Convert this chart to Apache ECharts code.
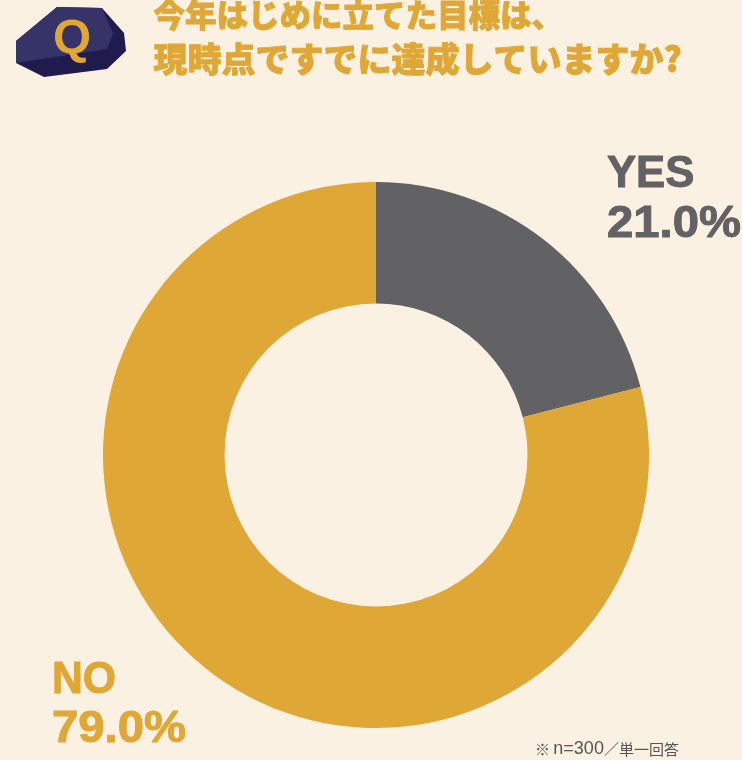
<!DOCTYPE html>
<html><head><meta charset="utf-8">
<style>html,body{margin:0;padding:0;background:#fbf1e3}#c{width:742px;height:760px}</style>
<script src="https://cdn.jsdelivr.net/npm/echarts@6/dist/echarts.min.js"></script>
</head><body><div id="c"></div>
<script>
const categories=['YES','NO'];
const values=[21.0,79.0];
const colors=['#626163','#dfa735'];
const titleLines=['今年はじめに立てた目標は、','現時点ですでに達成していますか?'];
const chart=echarts.init(document.getElementById('c'),null,{renderer:'canvas'});
const jp='"Noto Sans CJK JP",sans-serif';
const lab='bold 45px "Liberation Sans",sans-serif';
const stone=[[16,41],[57,7],[102,8],[124,33],[126,51],[107,69],[44,77],[16,63]];
const face=[[16,41],[57,7],[102,8],[113,33],[107,49],[16,63]];
function label(text,x,y,color,sx){
 return {type:'text',x:x,y:y,scaleX:sx,style:{text:text,fill:color,stroke:color,lineWidth:1,font:lab}};
}
chart.setOption({
 backgroundColor:'#fbf1e3',animation:false,
 graphic:[
  {type:'polygon',shape:{points:stone},style:{fill:'#1f1b4d'}},
  {type:'polygon',shape:{points:face},style:{fill:'#353368'}},
  {type:'text',left:53,top:15,style:{text:'Q',fill:'#dfa735',font:'bold 49px "Liberation Sans",sans-serif'}},
  {type:'text',left:153,top:-1,style:{text:titleLines[0],fill:'#dfa735',stroke:'#dfa735',lineWidth:0.8,font:'900 31.5px '+jp}},
  {type:'text',left:153,top:42,style:{text:titleLines[1],fill:'#dfa735',stroke:'#dfa735',lineWidth:0.8,font:'900 34px '+jp}},
  label(categories[0],607,152,colors[0],0.97),
  label(values[0].toFixed(1)+'%',607,202,colors[0],1.05),
  label(categories[1],52,658,colors[1],0.95),
  label(values[1].toFixed(1)+'%',52,707,colors[1],1.05),
  {type:'text',x:535,y:740,style:{
    text:'{a|※} {b|n=300}{a|／単一回答}',
    rich:{a:{fontFamily:jp,fontSize:15,fill:'#555',fontWeight:'normal',color:'#555'},
          b:{fontFamily:'"Liberation Sans",sans-serif',fontSize:18,fill:'#555',color:'#555'}}}}
 ],
 series:[{type:'pie',center:[376,455],radius:[151.5,273],startAngle:90,silent:true,label:{show:false},labelLine:{show:false},
  data:categories.map((n,i)=>({name:n,value:values[i],itemStyle:{color:colors[i]}}))}]
});
</script></body></html>
